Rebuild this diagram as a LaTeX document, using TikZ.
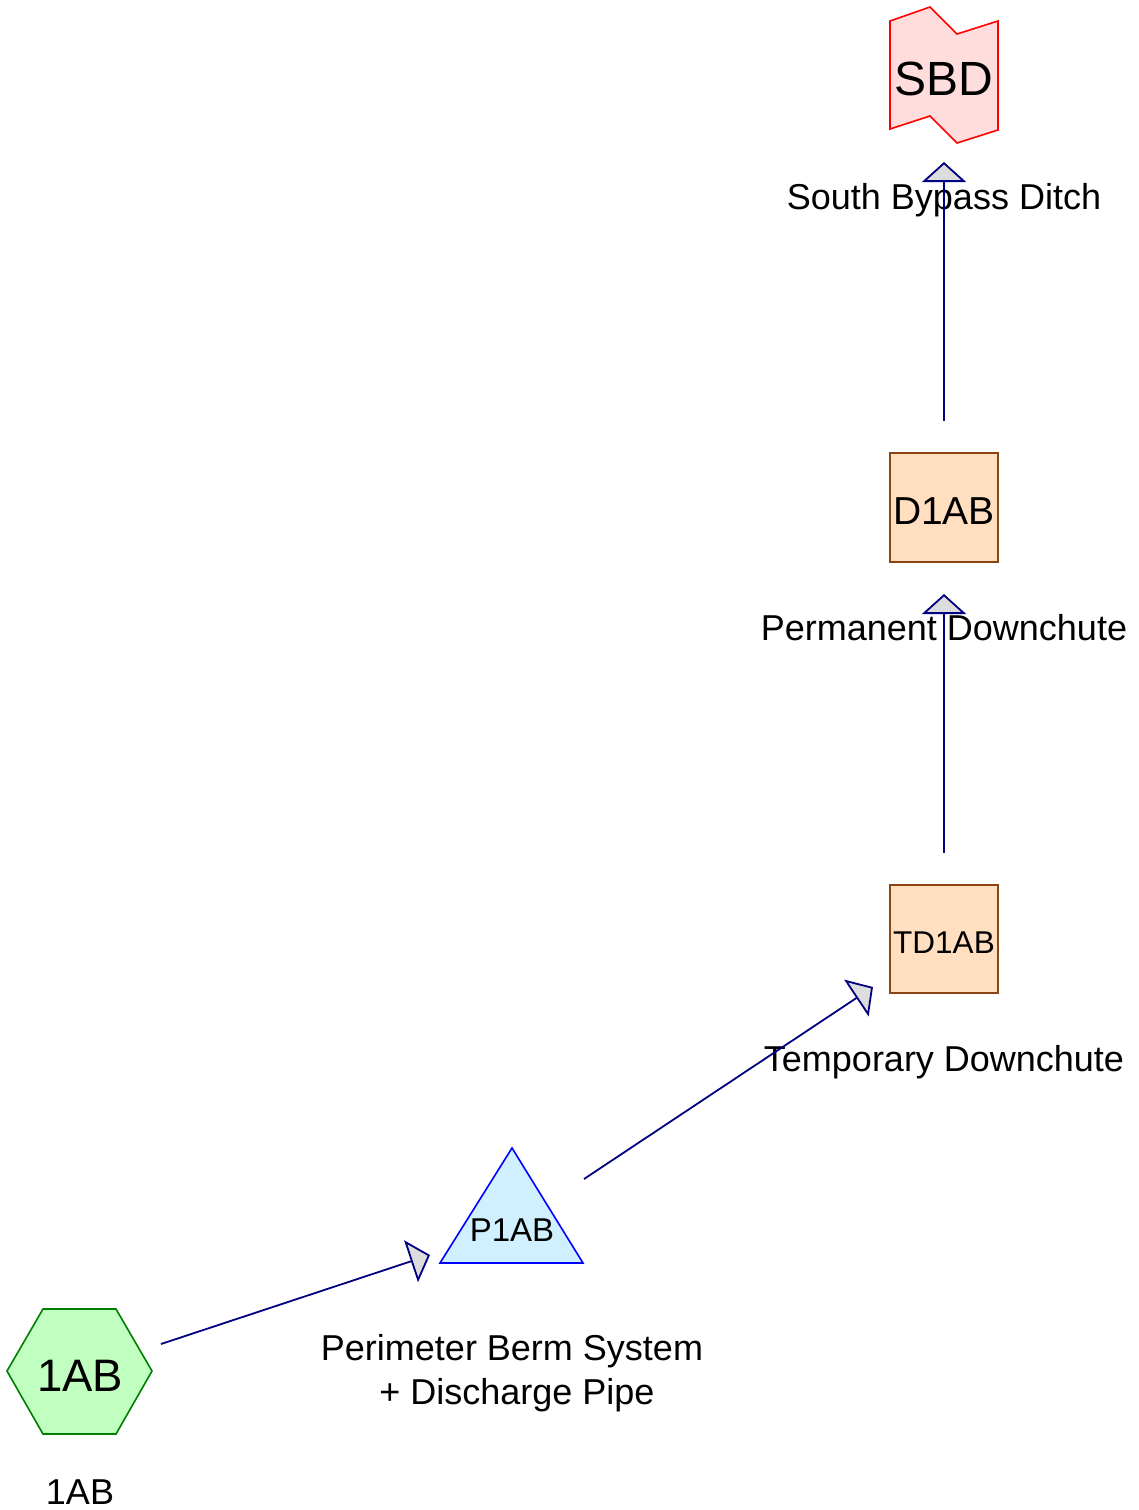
\documentclass[tikz,border=0pt]{standalone}
\usepackage{fontspec}
\setmainfont{Liberation Sans}
\usetikzlibrary{arrows.meta}
\definecolor{edgecol}{HTML}{000080}
\definecolor{headfill}{HTML}{DDDDDD}
\definecolor{boxfill}{HTML}{FFDFBF}
\definecolor{boxline}{HTML}{8B4513}
\definecolor{sbdfill}{HTML}{FFDDDD}
\definecolor{hexfill}{HTML}{C0FFC0}
\definecolor{hexline}{HTML}{008000}
\definecolor{trifill}{HTML}{D0F0FF}
\begin{document}
\begin{tikzpicture}[x=1pt,y=-1pt,
  flow/.style={draw=edgecol,line width=1.8pt,-{Triangle[length=20pt,width=44pt,fill=headfill]}},
  boxst/.style={draw=boxline,fill=boxfill,line width=1.6pt},
  lbl/.style={anchor=base,inner sep=0pt,font=\fontsize{36}{46}\selectfont},
  txt/.style={anchor=base,inner sep=0pt}]
\useasboundingbox (0,0) rectangle (1139,1510);
% SBD
\draw[draw=red,fill=sbdfill,line width=1.6pt] (890,21) -- (930,7) -- (957,34) -- (998,21) -- (998,130) -- (957,143) -- (930,116) -- (890,129) -- cycle;
\node[txt,font=\fontsize{48}{54}\selectfont] (sbd) at (944,95) {SBD};
\node[lbl] (sbdl) at (944,209) {South Bypass Ditch};
% D1AB
\draw[boxst] (890,453) rectangle (998,562);
\node[txt,font=\fontsize{39}{46}\selectfont] (d1ab) at (944,524) {D1AB};
\node[lbl] (d1abl) at (944,640) {Permanent Downchute};
% TD1AB
\draw[boxst] (890,885) rectangle (998,993);
\node[txt,font=\fontsize{31.5}{38}\selectfont] (td1ab) at (944,953) {TD1AB};
\node[lbl] (td1abl) at (944,1071) {Temporary Downchute};
% P1AB
\draw[draw=blue,fill=trifill,line width=1.6pt] (512,1148) -- (583,1263) -- (440,1263) -- cycle;
\node[txt,font=\fontsize{33}{40}\selectfont] (p1ab) at (512,1241) {P1AB};
\node[lbl] (p1abl) at (512,1360) {Perimeter Berm System};
\node[lbl] (p1abl2) at (517,1404) {+ Discharge Pipe};
% 1AB
\draw[draw=hexline,fill=hexfill,line width=1.6pt] (7,1371) -- (43,1309) -- (116,1309) -- (152,1371) -- (116,1434) -- (43,1434) -- cycle;
\node[txt,font=\fontsize{45.5}{52}\selectfont] (n1ab) at (80,1391) {1AB};
\node[lbl] (n1abl) at (80,1504) {1AB};
% connector end points
\coordinate (a1) at (161,1344);
\coordinate (a2) at (430,1255);
\coordinate (b1) at (584,1179);
\coordinate (b2) at (873,987);
\coordinate (c1) at (944,853);
\coordinate (c2) at (944,594);
\coordinate (e1) at (944,421);
\coordinate (e2) at (944,162);
\draw[flow] (a1) -- (a2);
\draw[flow] (b1) -- (b2);
\draw[flow] (c1) -- (c2);
\draw[flow] (e1) -- (e2);
\end{tikzpicture}
\end{document}
